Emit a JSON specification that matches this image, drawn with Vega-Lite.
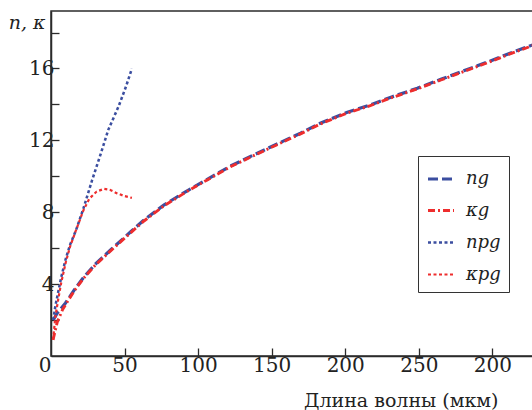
{
  "$schema": "https://vega.github.io/schema/vega-lite/v6.json",
  "width": 484,
  "height": 345,
  "autosize": {"type": "none"},
  "padding": {"left": 51, "top": 11, "right": 0, "bottom": 54},
  "config": {
    "font": "DejaVu Serif",
    "view": {"stroke": "#2b2b2b", "strokeWidth": 1.5}
  },
  "data": {"values": [
    {"s": "ng", "x": 1.5, "y": 2.0}, {"s": "ng", "x": 4.3, "y": 2.4}, {"s": "ng", "x": 9.9, "y": 2.95}, {"s": "ng", "x": 15.6, "y": 3.65}, {"s": "ng", "x": 22.4, "y": 4.4}, {"s": "ng", "x": 30, "y": 5.1}, {"s": "ng", "x": 40.5, "y": 5.9}, {"s": "ng", "x": 54, "y": 6.9}, {"s": "ng", "x": 63, "y": 7.55}, {"s": "ng", "x": 76.7, "y": 8.4}, {"s": "ng", "x": 91.4, "y": 9.14}, {"s": "ng", "x": 106.2, "y": 9.83}, {"s": "ng", "x": 122, "y": 10.57}, {"s": "ng", "x": 137.8, "y": 11.19}, {"s": "ng", "x": 153.7, "y": 11.8}, {"s": "ng", "x": 169.6, "y": 12.4}, {"s": "ng", "x": 183, "y": 12.95}, {"s": "ng", "x": 201, "y": 13.55}, {"s": "ng", "x": 217, "y": 13.97}, {"s": "ng", "x": 232, "y": 14.43}, {"s": "ng", "x": 249, "y": 14.9}, {"s": "ng", "x": 265, "y": 15.4}, {"s": "ng", "x": 280.5, "y": 15.87}, {"s": "ng", "x": 296.4, "y": 16.35}, {"s": "ng", "x": 312, "y": 16.85}, {"s": "ng", "x": 327, "y": 17.3}, {"s": "ng", "x": 340, "y": 17.7},
    {"s": "κg", "x": 1.4, "y": 0.9}, {"s": "κg", "x": 4.3, "y": 1.9}, {"s": "κg", "x": 8, "y": 2.6}, {"s": "κg", "x": 11, "y": 3.0}, {"s": "κg", "x": 15.6, "y": 3.6}, {"s": "κg", "x": 22.4, "y": 4.35}, {"s": "κg", "x": 30, "y": 5.05}, {"s": "κg", "x": 40.5, "y": 5.85}, {"s": "κg", "x": 54, "y": 6.85}, {"s": "κg", "x": 63, "y": 7.5}, {"s": "κg", "x": 76.7, "y": 8.35}, {"s": "κg", "x": 91.4, "y": 9.1}, {"s": "κg", "x": 106.2, "y": 9.8}, {"s": "κg", "x": 122, "y": 10.53}, {"s": "κg", "x": 137.8, "y": 11.15}, {"s": "κg", "x": 153.7, "y": 11.76}, {"s": "κg", "x": 169.6, "y": 12.36}, {"s": "κg", "x": 183, "y": 12.91}, {"s": "κg", "x": 201, "y": 13.51}, {"s": "κg", "x": 217, "y": 13.93}, {"s": "κg", "x": 232, "y": 14.39}, {"s": "κg", "x": 249, "y": 14.86}, {"s": "κg", "x": 265, "y": 15.36}, {"s": "κg", "x": 280.5, "y": 15.83}, {"s": "κg", "x": 296.4, "y": 16.31}, {"s": "κg", "x": 312, "y": 16.81}, {"s": "κg", "x": 327, "y": 17.26}, {"s": "κg", "x": 340, "y": 17.66},
    {"s": "npg", "x": 1.5, "y": 2.0}, {"s": "npg", "x": 3, "y": 2.8}, {"s": "npg", "x": 5, "y": 3.6}, {"s": "npg", "x": 7, "y": 4.4}, {"s": "npg", "x": 10, "y": 5.4}, {"s": "npg", "x": 13, "y": 6.2}, {"s": "npg", "x": 17, "y": 7.0}, {"s": "npg", "x": 22, "y": 8.2}, {"s": "npg", "x": 28, "y": 9.8}, {"s": "npg", "x": 34, "y": 11.3}, {"s": "npg", "x": 39, "y": 12.6}, {"s": "npg", "x": 46, "y": 13.9}, {"s": "npg", "x": 51, "y": 15.0}, {"s": "npg", "x": 55, "y": 16.0},
    {"s": "κpg", "x": 1.4, "y": 0.9}, {"s": "κpg", "x": 3, "y": 2.2}, {"s": "κpg", "x": 5, "y": 3.2}, {"s": "κpg", "x": 7, "y": 4.1}, {"s": "κpg", "x": 10, "y": 5.2}, {"s": "κpg", "x": 13, "y": 6.1}, {"s": "κpg", "x": 17, "y": 7.0}, {"s": "κpg", "x": 22, "y": 8.1}, {"s": "κpg", "x": 26, "y": 8.75}, {"s": "κpg", "x": 31, "y": 9.15}, {"s": "κpg", "x": 36, "y": 9.3}, {"s": "κpg", "x": 40, "y": 9.25}, {"s": "κpg", "x": 45, "y": 9.05}, {"s": "κpg", "x": 50, "y": 8.9}, {"s": "κpg", "x": 55, "y": 8.8}
  ]},
  "mark": {"type": "line", "clip": true},
  "encoding": {
    "x": {"field": "x", "type": "quantitative", "scale": {"domain": [0, 329], "nice": false, "zero": false},
      "axis": {"values": [0, 50, 100, 150, 200, 250, 300], "tickSize": -8, "labelPadding": 7, "grid": false,
        "domainColor": "#2b2b2b", "domainWidth": 1.5, "tickColor": "#2b2b2b", "tickWidth": 1.3,
        "labelFont": "DejaVu Serif", "labelFontSize": 20, "labelColor": "#222",
        "labelExpr": "datum.value == 300 ? '200' : datum.label",
        "labelAlign": {"condition": {"test": "datum.value == 0", "value": "right"}, "value": "center"},
        "tickOpacity": {"condition": {"test": "datum.value == 0", "value": 0}, "value": 1},
        "title": "Длина волны (мкм)", "titleFont": "DejaVu Serif", "titleFontSize": 19, "titleFontWeight": "normal", "titleColor": "#222",
        "titleX": 447, "titleY": 50, "titleAlign": "right", "titleBaseline": "alphabetic", "titleAnchor": null}},
    "y": {"field": "y", "type": "quantitative", "scale": {"domain": [0, 19.2], "nice": false, "zero": false},
      "axis": {"values": [2, 4, 6, 8, 10, 12, 14, 16, 18], "tickSize": -8, "labelPadding": 5, "grid": false,
        "domainColor": "#2b2b2b", "domainWidth": 1.5, "tickColor": "#2b2b2b", "tickWidth": 1.3,
        "labelFont": "DejaVu Serif", "labelFontSize": 20, "labelColor": "#222",
        "labelExpr": "datum.value % 4 == 0 ? datum.label : ''",
        "title": "n, κ", "titleFont": "DejaVu Serif", "titleFontSize": 19, "titleFontWeight": "normal", "titleColor": "#222", "titleFontStyle": "italic",
        "titleAngle": 0, "titleX": -6, "titleY": 17, "titleAlign": "right", "titleBaseline": "alphabetic"}},
    "color": {"field": "s", "type": "nominal", "scale": {"domain": ["ng", "κg", "npg", "κpg"], "range": ["#3b4ea0", "#ee2d2d", "#3b4ea0", "#ee2d2d"]},
      "legend": {"title": null, "orient": "none", "legendX": 367, "legendY": 145, "strokeColor": "#333", "padding": 8, "symbolType": "stroke", "symbolSize": 676, "labelFontSize": 18, "labelFont": "DejaVu Serif", "labelFontStyle": "italic", "labelColor": "#222", "rowPadding": 8, "labelOffset": 10, "fillColor": "white"}},
    "strokeDash": {"field": "s", "type": "nominal", "scale": {"domain": ["ng", "κg", "npg", "κpg"], "range": [[10, 4], [7, 3, 2, 3], [3, 2.5], [3, 2.5]]}, "legend": null},
    "strokeWidth": {"field": "s", "type": "nominal", "scale": {"domain": ["ng", "κg", "npg", "κpg"], "range": [3.2, 2.2, 3.5, 3.5]}, "legend": null},
    "order": {"field": "x", "type": "quantitative"}
  }
}
